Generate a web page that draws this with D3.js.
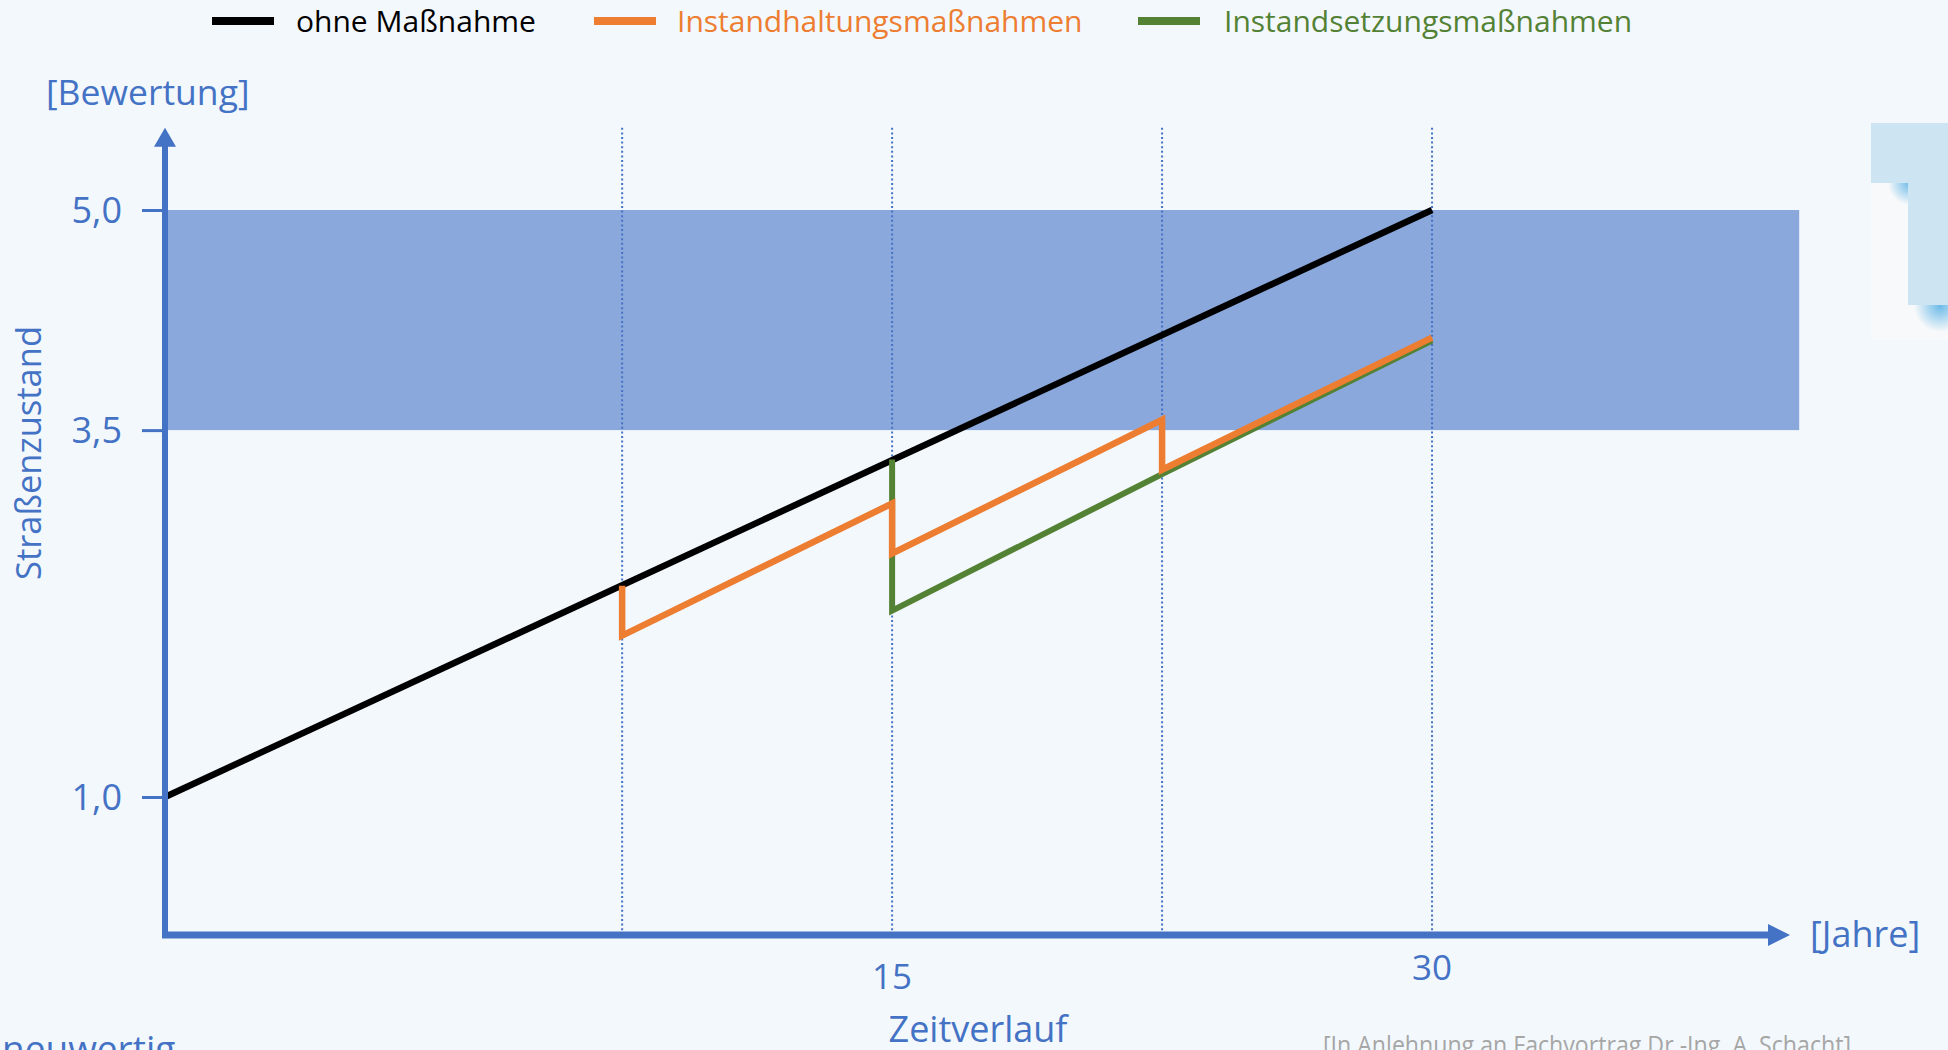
<!DOCTYPE html>
<html><head><meta charset="utf-8">
<script src="https://cdn.jsdelivr.net/npm/d3@7"></script>
<style>
html,body{margin:0;padding:0;background:#F3F8FD;overflow:hidden;}
svg{display:block;}
text{font-family:"Open Sans","Noto Sans",sans-serif;}
</style></head>
<body>
<script>
// ---- data ----
const seriesNames = ["ohne Maßnahme", "Instandhaltungsmaßnahmen", "Instandsetzungsmaßnahmen"];
const seriesColors = ["#000000", "#ED7D31", "#548235"];
const blackX = [-5.2, 30];
const blackY = [1.0, 5.0];
const orangeX = [7.5, 7.5, 15, 15, 22.5, 22.5, 30];
const orangeY = [2.44, 2.10, 3.00, 2.66, 3.57, 3.23, 4.13];
const greenX = [15, 15, 22.5, 30];
const greenY = [3.30, 2.27, 3.20, 4.11];
const markerYears = [7.5, 15, 22.5, 30];
const xTickValues = [15, 30];
const xTickLabels = ["15", "30"];
const yTickValues = [1.0, 3.5, 5.0];
const yTickLabels = ["1,0", "3,5", "5,0"];
const bandRange = [3.5, 5.0];
const xDomain = [-5.2, 40];
const bandEnd = 40.2;
const yTop = 5.56;

const W = 1948, H = 1050;
const svg = d3.select("body").append("svg").attr("width", W).attr("height", H);
svg.append("rect").attr("width", W).attr("height", H).attr("fill", "#F3F8FD");

const x = d3.scaleLinear().domain(xDomain).range([165, 1792]);
const y = d3.scaleLinear().domain([1, 5]).range([797, 210]);
const blue = "#4472C4";

// decorative cropped element at the top right
const deco = svg.append("g");
const defs = svg.append("defs");
const rg = defs.append("radialGradient").attr("id", "blob");
rg.append("stop").attr("offset", "0%").attr("stop-color", "#5DB3E6").attr("stop-opacity", 0.9);
rg.append("stop").attr("offset", "100%").attr("stop-color", "#5DB3E6").attr("stop-opacity", 0);
deco.append("rect").attr("x", 1871).attr("y", 123).attr("width", 77).attr("height", 217).attr("fill", "#F8F9FA");
deco.append("circle").attr("cx", 1910).attr("cy", 183).attr("r", 22).attr("fill", "url(#blob)");
deco.append("circle").attr("cx", 1940).attr("cy", 306).attr("r", 26).attr("fill", "url(#blob)");
deco.append("rect").attr("x", 1871).attr("y", 123).attr("width", 77).attr("height", 60).attr("fill", "#CDE5F2");
deco.append("rect").attr("x", 1908).attr("y", 123).attr("width", 40).attr("height", 182).attr("fill", "#CDE5F2");

// band
svg.append("rect")
  .attr("x", x(xDomain[0])).attr("y", y(bandRange[1]))
  .attr("width", x(bandEnd) - x(xDomain[0]))
  .attr("height", y(bandRange[0]) - y(bandRange[1]))
  .attr("fill", "#8AA8DC");

// dotted verticals
svg.selectAll("line.vdot").data(markerYears).join("line")
  .attr("class", "vdot")
  .attr("x1", d => x(d)).attr("x2", d => x(d))
  .attr("y1", y(yTop)).attr("y2", 932)
  .attr("stroke", blue).attr("stroke-width", 2).attr("stroke-dasharray", "2,2.6");

// series lines
const line = d3.line().x(d => x(d[0])).y(d => y(d[1])).curve(d3.curveLinear);
const blackPts = blackX.map((v, i) => [v, blackY[i]]);
const orangePts = orangeX.map((v, i) => [v, orangeY[i]]);
const greenPts = greenX.map((v, i) => [v, greenY[i]]);
svg.append("path").attr("d", line(blackPts)).attr("fill", "none")
  .attr("stroke", seriesColors[0]).attr("stroke-width", 6.5);
svg.append("path").attr("d", line(greenPts)).attr("fill", "none")
  .attr("stroke", seriesColors[2]).attr("stroke-width", 6).attr("stroke-linejoin", "miter");
svg.append("path").attr("d", line(orangePts)).attr("fill", "none")
  .attr("stroke", seriesColors[1]).attr("stroke-width", 6.5).attr("stroke-linejoin", "miter");

// y axis ticks
const yAxis = d3.axisLeft(y).tickValues(yTickValues)
  .tickFormat((d, i) => yTickLabels[i]).tickSize(23).tickPadding(20);
const yg = svg.append("g").attr("transform", `translate(${x(xDomain[0])},0)`).call(yAxis);
yg.select(".domain").remove();
yg.selectAll(".tick line").attr("stroke", blue).attr("stroke-width", 3);
yg.selectAll(".tick text").attr("fill", blue).style("font-size", "36px")
  .style("font-family", '"Open Sans",sans-serif').attr("dy", "0.35em");

// axes lines with arrows
const x0 = x(xDomain[0]), yAxisBase = 935;
svg.append("line").attr("x1", x0).attr("x2", x0).attr("y1", y(yTop) + 16).attr("y2", yAxisBase + 3)
  .attr("stroke", blue).attr("stroke-width", 6);
svg.append("path").attr("d", `M${x0},${y(yTop)} L${x0 + 11},${y(yTop) + 19} L${x0 - 11},${y(yTop) + 19} Z`).attr("fill", blue);
svg.append("line").attr("x1", x0 - 3).attr("x2", 1772).attr("y1", yAxisBase).attr("y2", yAxisBase)
  .attr("stroke", blue).attr("stroke-width", 7);
svg.append("path").attr("d", `M1790,${yAxisBase} L1768,${yAxisBase - 11} L1768,${yAxisBase + 11} Z`).attr("fill", blue);

// x tick labels
const xLabelBaselines = [989, 980];
svg.selectAll("text.xt").data(xTickValues).join("text")
  .attr("class", "xt")
  .attr("x", d => x(d)).attr("y", (d, i) => xLabelBaselines[i])
  .attr("text-anchor", "middle").attr("fill", blue).style("font-size", "35px")
  .text((d, i) => xTickLabels[i]);

// legend
const legX = [212, 594, 1138];
const legTextX = [296, 677, 1224];
const leg = svg.selectAll("g.leg").data(seriesNames).join("g").attr("class", "leg");
leg.append("line").attr("x1", (d, i) => legX[i]).attr("x2", (d, i) => legX[i] + 62).attr("y1", 21).attr("y2", 21)
  .attr("stroke", (d, i) => seriesColors[i]).attr("stroke-width", 8);
leg.append("text").attr("x", (d, i) => legTextX[i]).attr("y", 32)
  .attr("fill", (d, i) => seriesColors[i]).style("font-size", "30px").text(d => d);

// axis titles
svg.append("text").attr("x", 46).attr("y", 105).attr("fill", blue).style("font-size", "35.5px").text("[Bewertung]");
svg.append("text").attr("transform", "translate(41,453) rotate(-90)").attr("text-anchor", "middle")
  .attr("fill", blue).style("font-size", "34.5px").text("Straßenzustand");
svg.append("text").attr("x", 1810).attr("y", 947).attr("fill", blue).style("font-size", "36px").text("[Jahre]");
svg.append("text").attr("x", 978).attr("y", 1042).attr("text-anchor", "middle").attr("fill", blue)
  .style("font-size", "36px").text("Zeitverlauf");
svg.append("text").attr("x", 2).attr("y", 1062).attr("fill", blue).style("font-size", "37px").text("neuwertig");
svg.append("text").attr("x", 1323).attr("y", 1054).attr("fill", "#A6A6A6").style("font-size", "25px")
  .attr("textLength", 528).attr("lengthAdjust", "spacingAndGlyphs")
  .text("[In Anlehnung an Fachvortrag Dr.-Ing. A. Schacht]");
</script>
</body></html>
